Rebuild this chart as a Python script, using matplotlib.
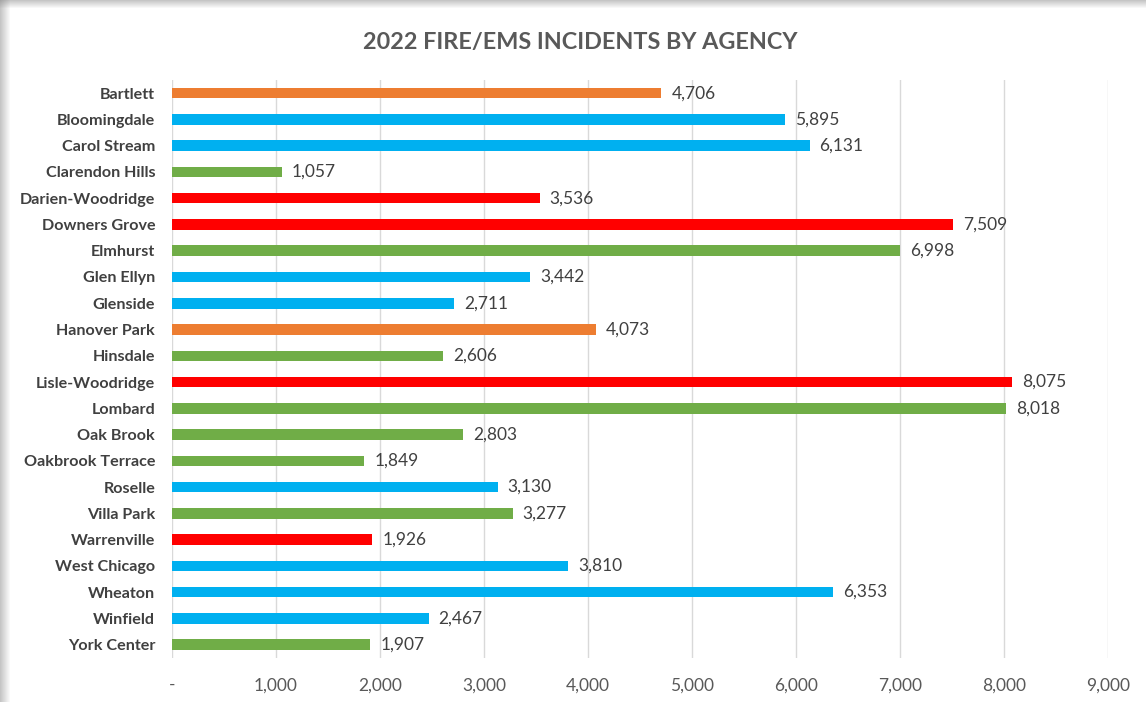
import matplotlib.pyplot as plt
from matplotlib.patches import Rectangle
from matplotlib.ticker import FuncFormatter

agencies = ['Bartlett', 'Bloomingdale', 'Carol Stream', 'Clarendon Hills',
            'Darien-Woodridge', 'Downers Grove', 'Elmhurst', 'Glen Ellyn',
            'Glenside', 'Hanover Park', 'Hinsdale', 'Lisle-Woodridge',
            'Lombard', 'Oak Brook', 'Oakbrook Terrace', 'Roselle',
            'Villa Park', 'Warrenville', 'West Chicago', 'Wheaton',
            'Winfield', 'York Center']
incidents = [4706, 5895, 6131, 1057, 3536, 7509, 6998, 3442, 2711, 4073,
             2606, 8075, 8018, 2803, 1849, 3130, 3277, 1926, 3810, 6353,
             2467, 1907]
groups = ['o', 'b', 'b', 'g', 'r', 'r', 'g', 'b', 'b', 'o', 'g', 'r',
          'g', 'g', 'g', 'b', 'g', 'r', 'b', 'b', 'b', 'g']
xticks = [0, 1000, 2000, 3000, 4000, 5000, 6000, 7000, 8000, 9000]

palette = {'o': '#ED7D31', 'b': '#00B0F0', 'g': '#70AD47', 'r': '#FF0000'}
colors = [palette[g] for g in groups]

plt.rcParams['font.family'] = ['Lato', 'DejaVu Sans']

fig = plt.figure(figsize=(11.46, 7.02), dpi=100)
fig.patch.set_facecolor('white')

# shadow along top and left edge
for i in range(8):
    a = 0.45 * (1 - i / 8)
    fig.add_artist(Rectangle((0, 1 - (i + 1) / 702), 1, 1 / 702,
                             transform=fig.transFigure, color='gray', alpha=a, lw=0))
for i in range(10):
    a = 0.45 * (1 - i / 10)
    fig.add_artist(Rectangle((i / 1146, 0), 1 / 1146, 1,
                             transform=fig.transFigure, color='gray', alpha=a, lw=0))

ax = fig.add_axes([0.150, 0.063, 0.817, 0.823])
ypos = list(range(len(agencies)))
ax.barh(ypos, incidents, height=0.4, color=colors, zorder=3)
ax.set_ylim(len(agencies) - 0.5, -0.5)
ax.set_xlim(0, 9000)
ax.set_yticks(ypos)
ax.set_yticklabels(agencies, fontsize=11.6, fontweight='bold', color='#404040')
ax.set_xticks(xticks)
ax.xaxis.set_major_formatter(FuncFormatter(lambda v, p: '-' if v == 0 else f'{int(v):,}'))
ax.tick_params(axis='x', labelsize=12.5, labelcolor='#595959', length=0, pad=14)
ax.tick_params(axis='y', length=0, pad=12)
ax.grid(axis='x', color='#D9D9D9', lw=1, zorder=0)
for s in ax.spines.values():
    s.set_visible(False)

for y, v in zip(ypos, incidents):
    ax.text(v + 95, y, f'{v:,}', va='center', ha='left', fontsize=12.5, color='#404040')

fig.text(0.506, 0.94, '2022 FIRE/EMS INCIDENTS BY AGENCY', ha='center', va='center',
         fontsize=16.8, fontweight='bold', color='#595959')

fig.savefig('out.png', dpi=100, facecolor='white')
